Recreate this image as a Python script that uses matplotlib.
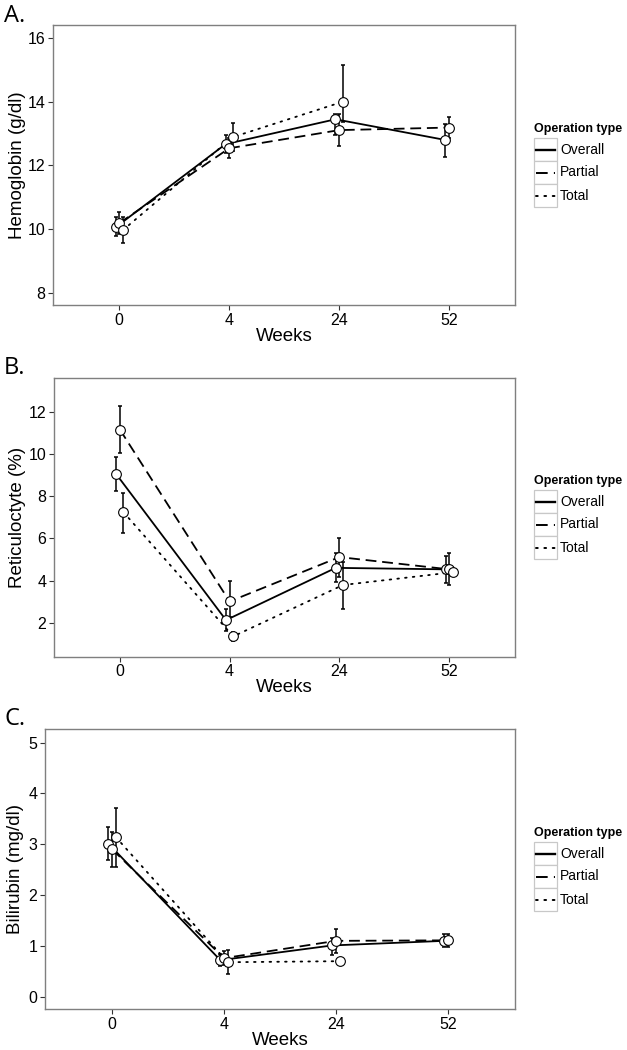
import numpy as np
import matplotlib
matplotlib.use("Agg")
import matplotlib.pyplot as plt
from matplotlib.lines import Line2D
from matplotlib.patches import Rectangle

nan = np.nan
weeks = ["0", "4", "24", "52"]
groups = ["Overall", "Partial", "Total"]

# Panel A: Hemoglobin
A_overall = [10.06, 12.67, 13.45, 12.80]
A_overall_lo = [9.80, 12.38, 12.95, 12.27]
A_overall_hi = [10.38, 12.95, 13.63, 13.30]
A_partial = [10.19, 12.54, 13.11, 13.19]
A_partial_lo = [9.85, 12.23, 12.62, 12.85]
A_partial_hi = [10.54, 12.85, 13.60, 13.53]
A_total = [9.97, 12.89, 14.00, nan]
A_total_lo = [9.56, 12.45, 13.37, nan]
A_total_hi = [10.39, 13.34, 15.15, nan]

# Panel B: Reticulocyte
B_overall = [9.04, 2.14, 4.61, 4.54]
B_overall_lo = [8.24, 1.64, 3.92, 3.88]
B_overall_hi = [9.86, 2.65, 5.30, 5.17]
B_partial = [11.15, 3.02, 5.12, 4.54]
B_partial_lo = [10.02, 2.30, 4.20, 3.80]
B_partial_hi = [12.27, 3.97, 6.00, 5.30]
B_total = [7.24, 1.37, 3.80, 4.40]
B_total_lo = [6.27, 1.13, 2.66, 4.30]
B_total_hi = [8.16, 1.60, 4.90, 4.50]

# Panel C: Bilirubin
C_overall = [3.01, 0.72, 1.01, 1.10]
C_overall_lo = [2.69, 0.60, 0.82, 0.98]
C_overall_hi = [3.34, 0.85, 1.15, 1.23]
C_partial = [2.90, 0.76, 1.10, 1.11]
C_partial_lo = [2.56, 0.62, 0.86, 0.98]
C_partial_hi = [3.24, 0.90, 1.34, 1.23]
C_total = [3.14, 0.68, 0.70, nan]
C_total_lo = [2.56, 0.44, 0.70, nan]
C_total_hi = [3.72, 0.92, 0.70, nan]

panels = [
    dict(label="A.", ylabel="Hemoglobin (g/dl)", yticks=[8, 10, 12, 14, 16], ylim=(7.62, 16.4),
         data=[(A_overall, A_overall_lo, A_overall_hi), (A_partial, A_partial_lo, A_partial_hi),
               (A_total, A_total_lo, A_total_hi)]),
    dict(label="B.", ylabel="Reticuloctyte (%)", yticks=[2, 4, 6, 8, 10, 12], ylim=(0.41, 13.6),
         data=[(B_overall, B_overall_lo, B_overall_hi), (B_partial, B_partial_lo, B_partial_hi),
               (B_total, B_total_lo, B_total_hi)]),
    dict(label="C.", ylabel="Bilirubin (mg/dl)", yticks=[0, 1, 2, 3, 4, 5], ylim=(-0.24, 5.26),
         data=[(C_overall, C_overall_lo, C_overall_hi), (C_partial, C_partial_lo, C_partial_hi),
               (C_total, C_total_lo, C_total_hi)]),
]

W, H = 627, 1050
fig = plt.figure(figsize=(W / 100, H / 100), dpi=100)
plt.rcParams['font.family'] = ['Liberation Sans', 'DejaVu Sans']

# axes rectangles in pixels: left, top, right, bottom
rects = [(53.3, 25.3, 515, 305), (54, 377.7, 515, 656.7), (45, 729.3, 515, 1009)]
label_pos = [(4, 22), (4, 374), (4, 725)]
ylabel_x = [18, 18, 16]
legend_title_y = [129, 481, 833]

styles = {
    "Overall": dict(linestyle="-"),
    "Partial": dict(linestyle=(0, (6.0, 3.2))),
    "Total": dict(linestyle=(0, (0.9, 3.4))),
}
dodge = [-0.033, 0.0, 0.033]
LW = 1.3
BORDER = "#7f7f7f"

for p, (l, t, r, b), lp, ylx, lty in zip(panels, rects, label_pos, ylabel_x, legend_title_y):
    ax = fig.add_axes([l / W, 1 - b / H, (r - l) / W, (b - t) / H])
    x = np.arange(1, len(weeks) + 1)
    for gi, (g, (m, lo, hi)) in enumerate(zip(groups, p["data"])):
        m = np.array(m, float); lo = np.array(lo, float); hi = np.array(hi, float)
        xx = x + dodge[gi]
        ok = ~np.isnan(m)
        ax.errorbar(xx[ok], m[ok], yerr=[m[ok] - lo[ok], hi[ok] - m[ok]], fmt="none",
                    ecolor="black", elinewidth=1.1, capsize=1.6, capthick=1.1, zorder=2)
        ax.plot(xx[ok], m[ok], color="black", lw=LW, zorder=3,
                dash_capstyle="round" if g == "Total" else "butt", **styles[g])
        ax.plot(xx[ok], m[ok], linestyle="none", marker="o", ms=7, mfc="white",
                mec="black", mew=0.8, zorder=4)
    ax.set_xlim(0.4, 4.6)
    ax.set_ylim(*p["ylim"])
    ax.set_xticks(x)
    ax.set_xticklabels(weeks)
    ax.set_yticks(p["yticks"])
    ax.tick_params(axis="both", direction="out", length=3.5, width=0.8, color="#333333",
                   labelsize=11.5, labelcolor="black", pad=2)
    for s in ax.spines.values():
        s.set_color(BORDER)
        s.set_linewidth(1.0)
    ax.set_xlabel("Weeks", fontsize=13.5, labelpad=0)
    fig.text(ylx / W, 1 - ((t + b) / 2) / H, p["ylabel"], rotation=90, fontsize=13.5,
             ha="center", va="center")
    fig.text(lp[0] / W, 1 - lp[1] / H, p["label"], fontsize=17, ha="left", va="baseline",
             family=["Open Sans", "DejaVu Sans"])

    # legend
    fig.text(534 / W, 1 - lty / H, "Operation type", fontsize=9, fontweight="bold",
             ha="left", va="center")
    top_key = lty + 9
    for gi, g in enumerate(groups):
        y0 = top_key + gi * 23
        fig.patches.append(Rectangle((533.5 / W, 1 - (y0 + 23) / H), 23 / W, 23 / H,
                                     transform=fig.transFigure, facecolor="white",
                                     edgecolor="#c8c8c8", lw=0.9))
        yc = 1 - (y0 + 11.5) / H
        st = dict(styles[g])
        fig.lines.append(Line2D([536 / W, 555 / W], [yc, yc], transform=fig.transFigure,
                                color="black", lw=1.7 if g == "Overall" else 1.4,
                                dash_capstyle="round" if g == "Total" else "butt", **st))
        fig.text(560 / W, yc, g, fontsize=10, ha="left", va="center")

fig.savefig("out.png", dpi=100)
